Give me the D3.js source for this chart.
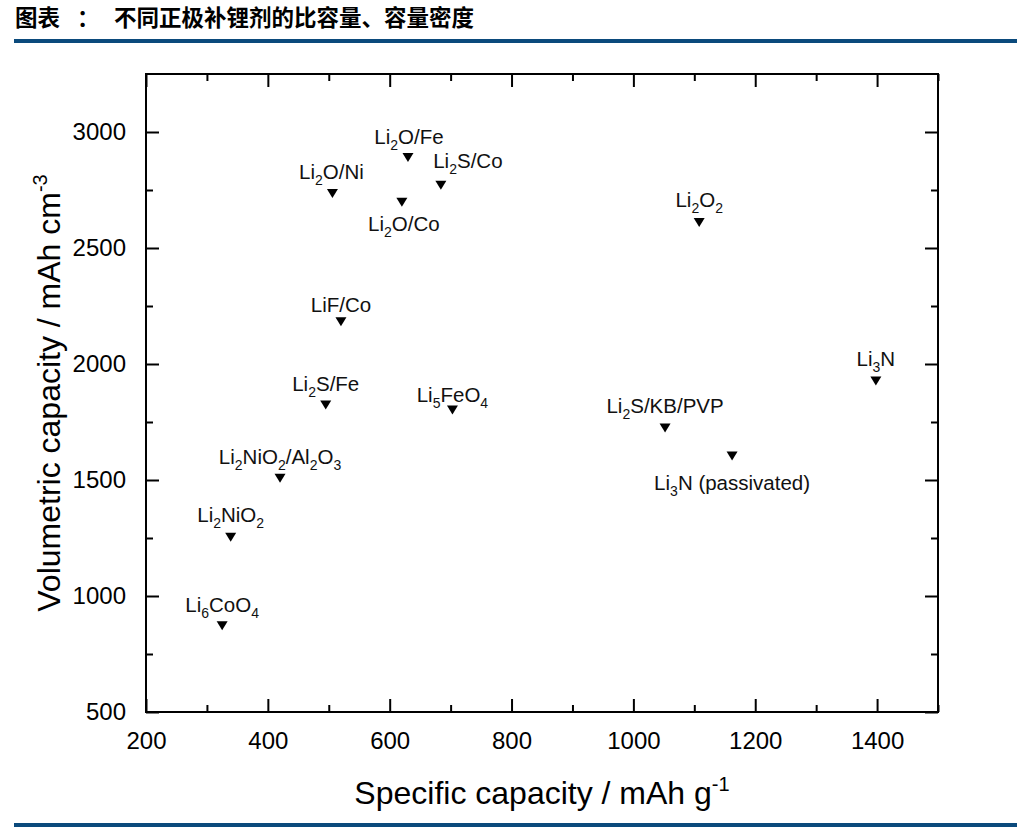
<!DOCTYPE html>
<html lang="zh-CN">
<head>
    <meta charset="UTF-8">
    <script src="https://d3js.org/d3.v7.min.js"></script>
    <title>不同正极补锂剂的比容量、容量密度</title>
</head>
<style>
body{
    margin: 0;
    background-color: #ffffff;
}

svg{
    display: block;
}

.title{
    font-family: 'Noto Sans CJK SC', sans-serif;
    font-weight: bold;
    font-size: 22.5px;
    fill: #000;
}

.tick text{
    font-family: 'Liberation Sans', Arial, sans-serif;
    font-size: 24px;
    fill: #000;
}

.tick line{
    stroke: #000;
    stroke-width: 2px;
}

.axis-title{
    font-family: 'Liberation Sans', Arial, sans-serif;
    font-size: 32px;
    fill: #000;
}

.point-label{
    font-family: 'Liberation Sans', Arial, sans-serif;
    font-size: 20.5px;
    fill: #111;
}
</style>

<body>
    <svg id='canvas'></svg>
</body>
<script>
// values
let names = ['Li_2O/Fe', 'Li_2S/Co', 'Li_2O/Ni', 'Li_2O/Co', 'LiF/Co', 'Li_2O_2', 'Li_2S/Fe',
    'Li_5FeO_4', 'Li_2NiO_2/Al_2O_3', 'Li_2NiO_2', 'Li_6CoO_4', 'Li_3N', 'Li_2S/KB/PVP', 'Li_3N (passivated)']
let specificCapacity = [630, 684, 506, 620, 520, 1108, 495, 703, 420, 339, 325, 1398, 1052, 1162]
let volumetricCapacity = [2890, 2770, 2735, 2697, 2182, 2610, 1823, 1802, 1508, 1253, 872, 1927, 1724, 1603]

let xMajorTicks = [200, 400, 600, 800, 1000, 1200, 1400]
let xMinorTicks = [300, 500, 700, 900, 1100, 1300, 1500]
let yMajorTicks = [500, 1000, 1500, 2000, 2500, 3000]
let yMinorTicks = [750, 1250, 1750, 2250, 2750]

// where each label sits relative to its marker (px)
let labelOffsets = [[1, -14], [27, -17], [-1, -14], [2, 29], [0, -10], [0, -15], [0, -14],
    [0, -8], [0, -14], [0, -15], [0, -14], [0, -15], [0, -15], [0, 34]]

let width = 1025
let height = 834
let plotLeft = 146
let plotRight = 938
let plotTop = 74
let plotBottom = 712

let svg = d3.select('#canvas')
    .attr('width', width)
    .attr('height', height)

let xScale = d3.scaleLinear()
    .domain([200, 1500])
    .range([plotLeft, plotRight])

let yScale = d3.scaleLinear()
    .domain([500, 3250])
    .range([plotBottom, plotTop])

// header
svg.append('text').attr('class', 'title').attr('x', 15).attr('y', 26).text('图表')
svg.append('text').attr('class', 'title').attr('x', 77).attr('y', 26).text('：')
svg.append('text').attr('class', 'title').attr('x', 114).attr('y', 26).text('不同正极补锂剂的比容量、容量密度')

svg.append('rect').attr('x', 14).attr('y', 39).attr('width', 1003).attr('height', 4).attr('fill', '#0b4a7c')
svg.append('rect').attr('x', 14).attr('y', 823).attr('width', 1003).attr('height', 4).attr('fill', '#0b4a7c')

// axes, ticks point inward
let drawAxis = (axis, transform) => {
    let g = svg.append('g')
        .attr('transform', transform)
        .call(axis)
    g.select('.domain').remove()
    return g
}

drawAxis(d3.axisBottom(xScale).tickValues(xMajorTicks).tickSizeInner(-13).tickPadding(20).tickFormat(d3.format('d')),
    'translate(0,' + plotBottom + ')')
drawAxis(d3.axisBottom(xScale).tickValues(xMinorTicks).tickSizeInner(-7).tickFormat(''),
    'translate(0,' + plotBottom + ')')
drawAxis(d3.axisTop(xScale).tickValues(xMajorTicks).tickSizeInner(-13).tickFormat(''),
    'translate(0,' + plotTop + ')')
drawAxis(d3.axisTop(xScale).tickValues(xMinorTicks).tickSizeInner(-7).tickFormat(''),
    'translate(0,' + plotTop + ')')

drawAxis(d3.axisLeft(yScale).tickValues(yMajorTicks).tickSizeInner(-13).tickPadding(20).tickFormat(d3.format('d')),
    'translate(' + plotLeft + ',0)')
drawAxis(d3.axisLeft(yScale).tickValues(yMinorTicks).tickSizeInner(-7).tickFormat(''),
    'translate(' + plotLeft + ',0)')
drawAxis(d3.axisRight(yScale).tickValues(yMajorTicks).tickSizeInner(-13).tickFormat(''),
    'translate(' + plotRight + ',0)')
drawAxis(d3.axisRight(yScale).tickValues(yMinorTicks).tickSizeInner(-7).tickFormat(''),
    'translate(' + plotRight + ',0)')

svg.append('rect')
    .attr('x', plotLeft)
    .attr('y', plotTop)
    .attr('width', plotRight - plotLeft)
    .attr('height', plotBottom - plotTop)
    .attr('fill', 'none')
    .attr('stroke', '#000')
    .attr('stroke-width', 2)

// axis titles
let xTitle = svg.append('text')
    .attr('class', 'axis-title')
    .attr('x', (plotLeft + plotRight) / 2)
    .attr('y', 804)
    .attr('text-anchor', 'middle')
xTitle.append('tspan').text('Specific capacity / mAh g')
xTitle.append('tspan').attr('dy', -13).attr('font-size', 20).text('-1')

let yTitle = svg.append('text')
    .attr('class', 'axis-title')
    .attr('transform', 'translate(60,' + (plotTop + plotBottom) / 2 + ') rotate(-90)')
    .attr('text-anchor', 'middle')
yTitle.append('tspan').text('Volumetric capacity / mAh cm')
yTitle.append('tspan').attr('dy', -13).attr('font-size', 20).text('-3')

// points
let points = names.map((name, i) => {
    return {name: name, x: specificCapacity[i], y: volumetricCapacity[i], offset: labelOffsets[i]}
})

svg.selectAll('.marker')
    .data(points)
    .enter()
    .append('path')
    .attr('class', 'marker')
    .attr('d', 'M-5.5,-4.5L5.5,-4.5L0,4.5Z')
    .attr('fill', '#000')
    .attr('transform', (item) => {
        return 'translate(' + xScale(item.x) + ',' + yScale(item.y) + ')'
    })

let labels = svg.selectAll('.point-label')
    .data(points)
    .enter()
    .append('text')
    .attr('class', 'point-label')
    .attr('text-anchor', 'middle')
    .attr('x', (item) => {
        return xScale(item.x) + item.offset[0]
    })
    .attr('y', (item) => {
        return yScale(item.y) + item.offset[1]
    })

// "_2" style marks become subscripts
labels.each(function(item) {
    let text = d3.select(this)
    let parts = item.name.split(/(_\d)/).filter((p) => p !== '')
    let shifted = false
    parts.forEach((part) => {
        if(part[0] === '_'){
            text.append('tspan').attr('dy', 6).attr('font-size', 14).text(part.slice(1))
            shifted = true
        }else{
            let span = text.append('tspan').text(part)
            if(shifted){
                span.attr('dy', -6)
                shifted = false
            }
        }
    })
})
</script>
</html>
